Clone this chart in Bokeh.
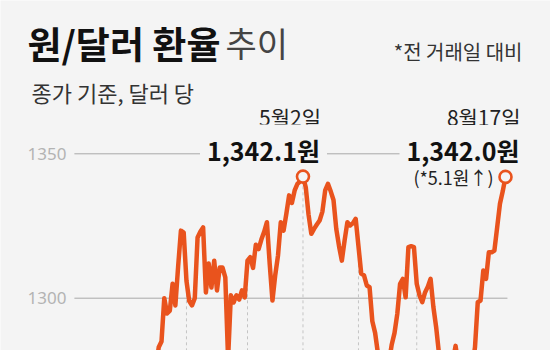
from bokeh.plotting import figure
from bokeh.models import Range1d, Label
from bokeh.core.properties import value
from bokeh.embed import file_html
from bokeh.resources import INLINE

# ---- data (KRW per USD, daily close, trading days from 2 Jan to 17 Aug) ----
rates = [
    # Jan (below the visible window, estimated)
    1272.6, 1269.7, 1257.4, 1264.5, 1268.6, 1245.4, 1244.6, 1241.9, 1245.4, 1240.0,
    1231.3, 1236.0, 1242.2, 1242.2, 1232.0, 1227.5, 1230.0, 1234.8, 1231.2, 1231.9,
    # Feb
    1230.5, 1220.3, 1228.4, 1252.8, 1250.7, 1263.4, 1261.9, 1266.6, 1267.4, 1276.0,
    1283.0, 1285.0, 1300.0, 1294.7, 1295.7, 1305.0, 1297.5, 1311.0, 1323.4, 1322.7,
    # Mar
    1306.0, 1299.0, 1297.5, 1300.0, 1321.0, 1323.0, 1324.5, 1302.0, 1312.0, 1303.7,
    1313.0, 1302.7, 1310.6, 1310.6, 1307.2, 1279.0, 1301.0, 1298.5, 1301.0, 1299.5,
    1302.7, 1300.3,
    # Apr
    1313.0, 1314.2, 1310.5, 1318.5, 1317.0, 1320.3, 1323.0, 1326.3, 1312.0, 1299.2,
    1308.0, 1314.8, 1326.3, 1323.4, 1329.2, 1335.6, 1333.0, 1337.3, 1339.6, 1340.5,
    # May
    1342.1, 1338.4, 1329.0, 1322.3, 1324.0, 1325.5, 1326.9, 1330.0, 1337.3, 1339.6,
    1337.0, 1334.0, 1324.0, 1318.0, 1313.0, 1320.0, 1326.3, 1325.2, 1326.0, 1327.5,
    # Jun
    1318.0, 1308.5, 1307.9, 1304.4, 1303.8, 1292.0, 1288.0, 1281.0, 1276.0, 1280.0,
    1271.0, 1278.0, 1284.0, 1288.0, 1294.6, 1305.0, 1306.7, 1300.3, 1317.7, 1318.0,
    1317.7,
    # Jul
    1305.0, 1301.0, 1298.6, 1302.0, 1304.0, 1306.7, 1297.0, 1290.0, 1281.0, 1276.0,
    1272.0, 1270.0, 1273.0, 1278.0, 1283.5, 1277.0, 1274.0, 1272.0, 1270.0, 1272.0,
    1276.0,
    # Aug
    1283.0, 1298.6, 1299.2, 1309.6, 1306.7, 1315.9, 1315.9, 1316.5, 1324.6, 1332.7,
    1337.0, 1342.0,
]
month_labels = ["2월", "3월", "4월", "5월", "6월", "7월", "8월"]
month_start_idx = [20, 40, 62, 82, 102, 123, 144]
y_ticks = [1300, 1350]
highlight_idx = [82, 155]
highlight_dates = ["5월2일", "8월17일"]
prev_change = 5.1

# ---- layout ----
W, H = 550, 350
BG = "#f4f4f4"
ORANGE = "#e9531d"
KR = "Noto Sans CJK KR"

n = len(rates)
xs = list(range(n))
px_x = 430.0 / (n - 1)
x_start = -75.0 / px_x
x_end = (n - 1) + 45.0 / px_x
px_y = 144.4 / 50.0
y_top = 1350 + 153.3 / px_y
y_bot = 1300 - 52.3 / px_y

p = figure(width=W, height=H, x_range=Range1d(x_start, x_end),
           y_range=Range1d(y_bot, y_top), output_backend="svg",
           toolbar_location=None, min_border=0,
           x_axis_location=None, y_axis_location=None)
p.grid.visible = False
p.outline_line_color = None
p.background_fill_color = BG
p.border_fill_color = BG

# gridlines
gx0 = -0.4
gx1 = (n - 1) + 0.7
p.segment(x0=[gx0] * len(y_ticks), y0=y_ticks, x1=[gx1] * len(y_ticks), y1=y_ticks,
          line_color="#a9a9a9", line_width=1, level="underlay")
p.text(x=[gx0] * len(y_ticks), y=y_ticks, text=[str(t) for t in y_ticks],
       x_offset=-8, text_align="right", text_baseline="middle",
       text_font=value("Noto Sans"), text_font_size="17px", text_color="#b3b3b3")

# month markers
p.segment(x0=month_start_idx, y0=[y_bot - 100] * len(month_start_idx),
          x1=month_start_idx, y1=[rates[i] for i in month_start_idx],
          line_color="#c4c4c4", line_width=1, line_dash="3 3", level="underlay")

# series
p.line(x=xs, y=rates, line_color=ORANGE, line_width=4.5, line_join="round",
       level="overlay")
p.scatter(x=highlight_idx, y=[rates[i] for i in highlight_idx], size=12,
          fill_color=BG, line_color=ORANGE, line_width=2.6, level="overlay")

# highlight labels
hx0, hx1 = highlight_idx
p.add_layout(Label(x=hx0, y=rates[hx0], x_offset=18, y_offset=60, text=highlight_dates[0],
                   text_align="right", text_baseline="alphabetic", text_font=KR,
                   text_font_size="21px", text_color="#222222"))
p.add_layout(Label(x=hx0, y=rates[hx0], x_offset=24, y_offset=27,
                   text=f"{rates[hx0]:,.1f}원", text_align="right",
                   text_baseline="alphabetic", text_font=KR, text_font_style="bold",
                   text_font_size="25px", text_color="#111111",
                   background_fill_color=BG, padding=7))
p.add_layout(Label(x=hx1, y=rates[hx1], x_offset=15, y_offset=60, text=highlight_dates[1],
                   text_align="right", text_baseline="alphabetic", text_font=KR,
                   text_font_size="21px", text_color="#222222"))
p.add_layout(Label(x=hx1, y=rates[hx1], x_offset=21, y_offset=27,
                   text=f"{rates[hx1]:,.1f}원", text_align="right",
                   text_baseline="alphabetic", text_font=KR, text_font_style="bold",
                   text_font_size="25px", text_color="#111111",
                   background_fill_color=BG, padding=7))
p.add_layout(Label(x=hx1, y=rates[hx1], x_offset=-12, y_offset=0,
                   text=f"(*{prev_change}원↑)", text_align="right",
                   text_baseline="alphabetic", text_font=KR,
                   text_font_size="18px", text_color="#222222"))

# titles
p.add_layout(Label(x=27, y=H - 42, x_units="screen", y_units="screen",
                   text="원/달러 환율", text_font=KR, text_font_style="bold",
                   text_font_size="37px", text_color="#111111",
                   text_baseline="alphabetic"))
p.add_layout(Label(x=225, y=H - 42, x_units="screen", y_units="screen",
                   text="추이", text_font=KR, text_font_size="34px",
                   text_color="#444444", text_baseline="alphabetic"))
p.add_layout(Label(x=31, y=H - 91, x_units="screen", y_units="screen",
                   text="종가 기준, 달러 당", text_font=KR, text_font_size="22px",
                   text_color="#333333", text_baseline="alphabetic"))
p.add_layout(Label(x=522, y=H - 51, x_units="screen", y_units="screen",
                   text="*전 거래일 대비", text_font=KR, text_font_size="20px",
                   text_color="#333333", text_align="right", text_baseline="alphabetic"))

open("out.html", "w").write(file_html(p, INLINE))
